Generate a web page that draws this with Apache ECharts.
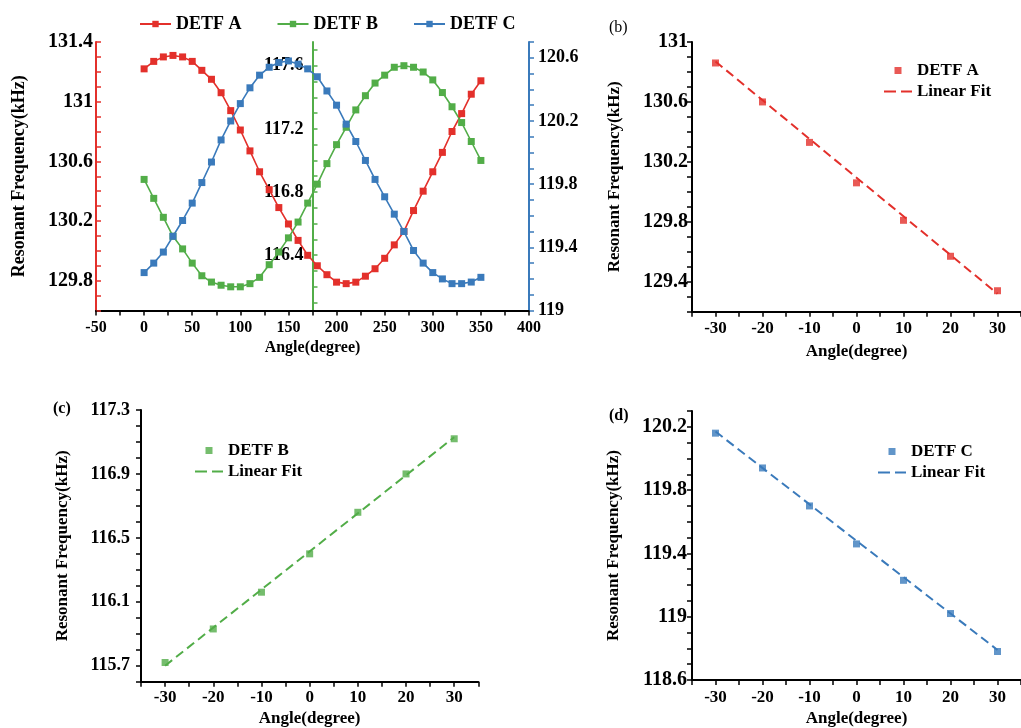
<!DOCTYPE html>
<html><head><meta charset="utf-8">
<script src="https://cdn.jsdelivr.net/npm/echarts@6/dist/echarts.min.js"></script>
<style>html,body{margin:0;padding:0;background:#fff}#c{width:1021px;height:728px}</style>
</head><body><div id="c"></div>
<script>
// ---------- DATA ----------
const anglesA = [0,10,20,30,40,50,60,70,80,90,100,110,120,130,140,150,160,170,180,190,200,210,220,230,240,250,260,270,280,290,300,310,320,330,340,350];
const detfA = [131.22,131.27,131.30,131.31,131.30,131.27,131.21,131.15,131.06,130.94,130.81,130.67,130.53,130.41,130.29,130.18,130.07,129.97,129.90,129.84,129.79,129.78,129.79,129.83,129.88,129.95,130.04,130.13,130.27,130.40,130.53,130.66,130.80,130.92,131.05,131.14];
const detfB = [116.88,116.76,116.64,116.52,116.44,116.35,116.27,116.23,116.21,116.20,116.20,116.22,116.26,116.34,116.42,116.51,116.61,116.73,116.85,116.98,117.10,117.21,117.32,117.41,117.49,117.54,117.59,117.60,117.59,117.56,117.51,117.43,117.34,117.24,117.12,117.00];
const detfC = [119.24,119.30,119.37,119.47,119.57,119.68,119.81,119.94,120.08,120.20,120.31,120.41,120.49,120.54,120.57,120.58,120.56,120.53,120.48,120.39,120.30,120.18,120.07,119.95,119.83,119.72,119.61,119.50,119.38,119.30,119.24,119.20,119.17,119.17,119.18,119.21];

const tiltAngles = [-30,-20,-10,0,10,20,30];
const tiltA = [130.86,130.60,130.33,130.06,129.81,129.57,129.34];
const tiltB = [115.72,115.93,116.16,116.40,116.66,116.90,117.12];
const tiltC = [120.16,119.94,119.70,119.46,119.23,119.02,118.78];
const fitAngles = [-30,30];
const fitA = [130.87,129.32];
const fitB = [115.70,117.13];
const fitC = [120.17,118.79];

// tick labels
const xLabelsA = [-50,0,50,100,150,200,250,300,350,400];
const yLabelsRed = [129.8,130.2,130.6,131,131.4];
const yLabelsGreen = [116.4,116.8,117.2,117.6];
const yLabelsBlue = [119,119.4,119.8,120.2,120.6];
const xLabelsFit = [-30,-20,-10,0,10,20,30];
const yLabelsB = [129.4,129.8,130.2,130.6,131];
const yLabelsC = [115.7,116.1,116.5,116.9,117.3];
const yLabelsD = [118.6,119,119.4,119.8,120.2];

// ---------- STYLE ----------
const FONT = 'Liberation Serif';
const RED = '#e3302b', GREEN = '#52ad48', BLUE = '#3a7abb';
const SQ = 'path://M0,0H10V10H0Z';
const DASH = 'path://M0,0H12V2H0ZM17,0H28V2H17Z';

function tickRange(min, max, step) {
  const out = []; const n = Math.round((max - min) / step);
  for (let i = 0; i <= n; i++) out.push(+(min + i * step).toFixed(4));
  return out;
}
function axis(o) {
  const c = o.color || '#000';
  const a = {
    type: 'value', gridIndex: o.grid, min: o.min, max: o.max,
    splitLine: { show: false },
    axisLine: { show: true, onZero: false, lineStyle: { color: c, width: 2 } },
    axisTick: { show: true, inside: !!o.inside, length: o.tickLen || 5, customValues: o.ticks, lineStyle: { color: c, width: 1.5 } },
    axisLabel: { customValues: o.labels, color: '#000', fontFamily: FONT, fontWeight: 'bold', fontSize: o.fs, margin: o.margin, formatter: v => String(v) }
  };
  if (o.position) a.position = o.position;
  if (o.offset !== undefined) a.offset = o.offset;
  if (o.name) {
    a.name = o.name; a.nameLocation = 'middle'; a.nameGap = o.nameGap;
    a.nameTextStyle = { fontFamily: FONT, fontWeight: 'bold', fontSize: o.nameFs || 17, color: '#000' };
  }
  return a;
}
const pairs = (xs, ys) => xs.map((x, i) => [x, ys[i]]);
const YT = 'Resonant Frequency(kHz)', XT = 'Angle(degree)';
const legText = { fontFamily: FONT, fontWeight: 'bold', fontSize: 17, color: '#000' };

const option = {
  animation: false,
  backgroundColor: '#fff',
  grid: [
    { left: 96, right: 492, top: 42, bottom: 417.5 },
    { left: 692, right: -9, top: 42, bottom: 416.3 },
    { left: 141, right: 542.7, top: 410, bottom: 46.3 },
    { left: 692, right: -9, top: 411, bottom: 48 }
  ],
  xAxis: [
    axis({ grid: 0, min: -50, max: 400, labels: xLabelsA, ticks: tickRange(-50, 400, 25), fs: 16, margin: 9, name: XT, nameGap: 29, nameFs: 16 }),
    axis({ grid: 1, min: -35, max: 35, labels: xLabelsFit, ticks: tickRange(-35, 35, 5), fs: 17, margin: 8, name: XT, nameGap: 31 }),
    axis({ grid: 2, min: -35, max: 35, labels: xLabelsFit, ticks: tickRange(-35, 35, 5), fs: 17, margin: 7, name: XT, nameGap: 28 }),
    axis({ grid: 3, min: -35, max: 35, labels: xLabelsFit, ticks: tickRange(-35, 35, 5), fs: 17, margin: 9, name: XT, nameGap: 30 })
  ],
  yAxis: [
    axis({ grid: 0, min: 129.6, max: 131.4, labels: yLabelsRed, ticks: tickRange(129.6, 131.4, 0.1), color: RED, inside: true, fs: 20, margin: 3, position: 'left', name: YT, nameGap: 68, nameFs: 18 }),
    axis({ grid: 0, min: 116.05, max: 117.75, labels: yLabelsGreen, ticks: tickRange(116.1, 117.7, 0.1), color: GREEN, inside: true, fs: 18, margin: 9, position: 'left', offset: -216.5 }),
    axis({ grid: 0, min: 119, max: 120.7, labels: yLabelsBlue, ticks: tickRange(119, 120.7, 0.1), color: BLUE, fs: 18, margin: 9, position: 'right' }),
    axis({ grid: 1, min: 129.2, max: 131, labels: yLabelsB, ticks: tickRange(129.2, 131, 0.1), fs: 20, margin: 4, name: YT, nameGap: 69 }),
    axis({ grid: 2, min: 115.6, max: 117.3, labels: yLabelsC, ticks: tickRange(115.6, 117.3, 0.1), fs: 18, margin: 11, name: YT, nameGap: 70 }),
    axis({ grid: 3, min: 118.6, max: 120.3, labels: yLabelsD, ticks: tickRange(118.6, 120.3, 0.1), fs: 20, margin: 5, name: YT, nameGap: 70 })
  ],
  legend: [
    { data: ['DETF A', 'DETF B', 'DETF C'], left: 134, top: 10, itemWidth: 31, itemHeight: 8, itemGap: 35,
      textStyle: { fontFamily: FONT, fontWeight: 'bold', fontSize: 18, color: '#000' } },
    { data: [{ name: 'DETF A ', icon: SQ }, { name: 'Linear Fit', icon: DASH }], orient: 'vertical', left: 879, top: 57,
      itemWidth: 28, itemHeight: 7, itemGap: 4, textStyle: legText },
    { data: [{ name: 'DETF B ', icon: SQ }, { name: 'Linear Fit ', icon: DASH }], orient: 'vertical', left: 190, top: 437,
      itemWidth: 28, itemHeight: 7, itemGap: 4, textStyle: legText },
    { data: [{ name: 'DETF C ', icon: SQ }, { name: 'Linear Fit  ', icon: DASH }], orient: 'vertical', left: 873, top: 438,
      itemWidth: 28, itemHeight: 7, itemGap: 4, textStyle: legText }
  ],
  graphic: [
    { type: 'text', left: 609, top: 20, style: { text: '(b)', font: '16px "Liberation Serif"', fill: '#000' } },
    { type: 'text', left: 53, top: 401, style: { text: '(c)', font: 'bold 16px "Liberation Serif"', fill: '#000' } },
    { type: 'text', left: 609, top: 408, style: { text: '(d)', font: 'bold 16px "Liberation Serif"', fill: '#000' } }
  ],
  series: [
    { name: 'DETF A', type: 'line', xAxisIndex: 0, yAxisIndex: 0, data: pairs(anglesA, detfA), symbol: 'rect', symbolSize: 7, color: RED, lineStyle: { width: 1.6 } },
    { name: 'DETF B', type: 'line', xAxisIndex: 0, yAxisIndex: 1, data: pairs(anglesA, detfB), symbol: 'rect', symbolSize: 7, color: GREEN, lineStyle: { width: 1.6 } },
    { name: 'DETF C', type: 'line', xAxisIndex: 0, yAxisIndex: 2, data: pairs(anglesA, detfC), symbol: 'rect', symbolSize: 7, color: BLUE, lineStyle: { width: 1.6 } },

    { name: 'Linear Fit', type: 'line', xAxisIndex: 1, yAxisIndex: 3, data: pairs(fitAngles, fitA), symbol: 'none', color: RED, lineStyle: { width: 2, type: [9, 5] } },
    { name: 'DETF A ', type: 'scatter', xAxisIndex: 1, yAxisIndex: 3, data: pairs(tiltAngles, tiltA), symbol: 'rect', symbolSize: 7, color: RED, z: 3 },

    { name: 'Linear Fit ', type: 'line', xAxisIndex: 2, yAxisIndex: 4, data: pairs(fitAngles, fitB), symbol: 'none', color: GREEN, lineStyle: { width: 2, type: [9, 5] } },
    { name: 'DETF B ', type: 'scatter', xAxisIndex: 2, yAxisIndex: 4, data: pairs(tiltAngles, tiltB), symbol: 'rect', symbolSize: 7, color: GREEN, z: 3 },

    { name: 'Linear Fit  ', type: 'line', xAxisIndex: 3, yAxisIndex: 5, data: pairs(fitAngles, fitC), symbol: 'none', color: BLUE, lineStyle: { width: 2, type: [9, 5] } },
    { name: 'DETF C ', type: 'scatter', xAxisIndex: 3, yAxisIndex: 5, data: pairs(tiltAngles, tiltC), symbol: 'rect', symbolSize: 7, color: BLUE, z: 3 }
  ]
};
const chart = echarts.init(document.getElementById('c'), null, { renderer: 'canvas' });
chart.setOption(option);
</script>
</body></html>
